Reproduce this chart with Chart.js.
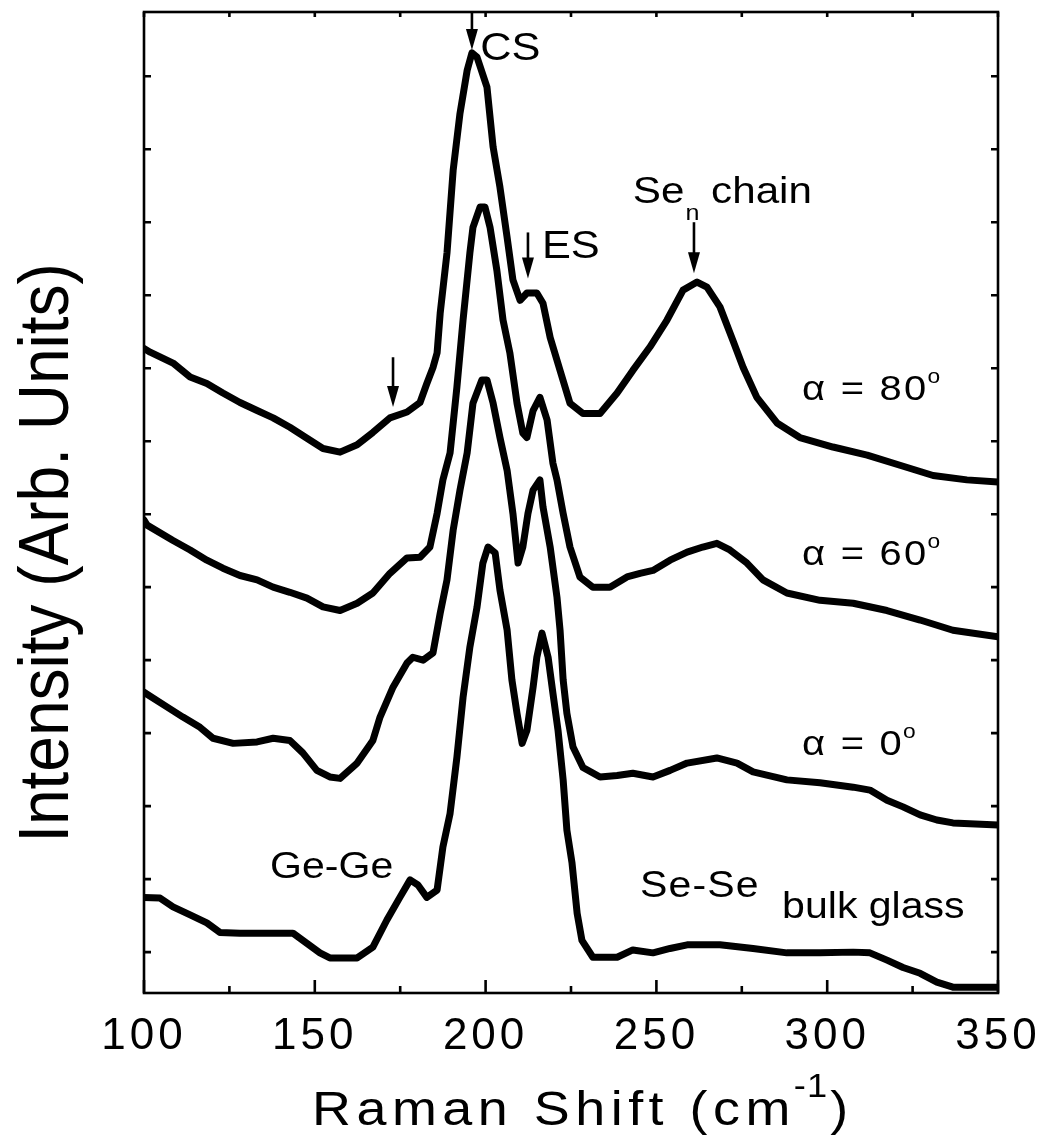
<!DOCTYPE html>
<html>
<head>
<meta charset="utf-8">
<script src="https://cdn.jsdelivr.net/npm/chart.js@4.4.1/dist/chart.umd.min.js"></script>
<style>
  html, body { margin: 0; padding: 0; background: #fff; }
  #wrap { width: 1039px; height: 1142px; }
</style>
</head>
<body>
<div id="wrap"><canvas id="raman" width="1039" height="1142" style="width:1039px;height:1142px"></canvas></div>
<script>
const FONT = '"Liberation Sans", Arial, Helvetica, sans-serif';

// Raman shift (cm-1) / intensity (arb. units, curves offset vertically)
const shift80 = [100, 101.8, 108.5, 113.5, 118.4, 123.1, 128.1, 133.1, 137.8, 142.7, 147.7, 152.4, 157.4, 162.4, 167.0, 172.0, 177.0, 180.8, 182.8, 184.6, 185.8, 186.7, 188.7, 190.5, 192.5, 194.6, 196.0, 197.5, 200.4, 202.2, 204.2, 206.3, 208.0, 210.1, 212.1, 215.0, 216.8, 218.9, 221.8, 224.7, 228.5, 233.5, 238.5, 243.1, 248.1, 253.1, 257.8, 261.9, 264.8, 268.6, 272.4, 275.4, 279.4, 285.3, 292.0, 301.7, 311.7, 321.3, 331.0, 340.9, 350];
const int80 = [8.27, 8.22, 8.07, 7.88, 7.79, 7.66, 7.53, 7.42, 7.32, 7.19, 7.04, 6.90, 6.85, 6.95, 7.12, 7.32, 7.40, 7.53, 7.79, 8.01, 8.21, 8.75, 9.58, 10.71, 11.49, 12.08, 12.32, 12.26, 11.85, 11.03, 10.48, 9.79, 9.21, 8.93, 9.03, 9.03, 8.89, 8.42, 7.97, 7.52, 7.38, 7.38, 7.66, 7.97, 8.29, 8.66, 9.07, 9.18, 9.11, 8.84, 8.38, 8.01, 7.60, 7.25, 7.05, 6.92, 6.81, 6.67, 6.53, 6.47, 6.44];

const shift60 = [100, 100.9, 108.5, 113.5, 118.4, 123.1, 128.1, 133.1, 137.8, 142.7, 147.7, 152.4, 157.4, 162.4, 167.0, 172.0, 177.0, 180.8, 183.7, 185.8, 187.5, 189.6, 191.6, 193.4, 195.4, 196.3, 198.4, 199.8, 201.3, 203.3, 205.1, 207.1, 209.2, 210.9, 212.1, 213.9, 215.9, 218.0, 219.7, 220.9, 222.7, 224.7, 227.6, 231.4, 236.4, 241.4, 245.2, 249.0, 254.0, 259.0, 263.6, 267.7, 271.5, 276.5, 281.2, 288.2, 297.9, 307.6, 317.5, 327.2, 336.8, 350];
const int60 = [5.92, 5.85, 5.64, 5.51, 5.37, 5.26, 5.16, 5.10, 5.00, 4.93, 4.85, 4.73, 4.68, 4.78, 4.92, 5.19, 5.40, 5.41, 5.55, 6.01, 6.47, 6.84, 7.74, 8.66, 9.58, 9.93, 10.21, 10.21, 9.93, 9.34, 8.66, 8.21, 7.52, 7.11, 7.05, 7.42, 7.60, 7.29, 6.70, 6.47, 6.01, 5.55, 5.14, 5.00, 5.00, 5.14, 5.19, 5.23, 5.37, 5.48, 5.55, 5.60, 5.51, 5.33, 5.10, 4.92, 4.82, 4.78, 4.68, 4.55, 4.41, 4.32];

const shift0 = [100, 106.7, 111.4, 116.4, 120.2, 126.1, 133.1, 137.8, 142.7, 146.5, 150.6, 154.4, 157.4, 162.4, 167.0, 169.1, 172.9, 177.0, 178.7, 181.7, 184.6, 186.7, 188.7, 190.5, 192.5, 194.6, 196.3, 198.9, 200.4, 202.2, 204.2, 206.3, 208.0, 209.5, 210.9, 212.4, 213.9, 215.9, 216.8, 218.9, 220.9, 221.8, 222.7, 223.8, 225.6, 228.5, 233.5, 238.5, 243.1, 249.0, 254.0, 259.0, 267.7, 273.6, 278.3, 288.2, 297.9, 307.6, 312.5, 317.5, 322.2, 327.2, 332.1, 336.8, 350];
const int0 = [3.56, 3.36, 3.22, 3.08, 2.93, 2.86, 2.88, 2.93, 2.90, 2.73, 2.49, 2.40, 2.38, 2.59, 2.90, 3.22, 3.63, 3.96, 4.04, 4.00, 4.10, 4.64, 5.10, 5.78, 6.33, 6.84, 7.52, 7.84, 7.84, 7.52, 7.05, 6.60, 6.01, 5.33, 5.55, 6.01, 6.33, 6.47, 6.10, 5.55, 4.86, 4.41, 3.73, 3.27, 2.81, 2.53, 2.40, 2.42, 2.45, 2.40, 2.49, 2.59, 2.66, 2.59, 2.47, 2.36, 2.32, 2.26, 2.22, 2.08, 1.99, 1.88, 1.81, 1.77, 1.74];

const shiftBulk = [100, 104.7, 108.5, 113.5, 118.4, 122.2, 128.1, 137.8, 143.6, 147.7, 151.5, 154.4, 162.4, 167.0, 171.1, 174.9, 177.9, 180.2, 182.8, 185.8, 187.5, 189.6, 191.6, 193.4, 195.4, 197.5, 199.2, 200.7, 202.8, 204.2, 206.3, 207.7, 209.2, 210.7, 212.1, 213.9, 215.0, 216.5, 218.3, 219.7, 221.2, 222.7, 223.8, 225.3, 226.8, 228.2, 231.4, 238.5, 243.1, 249.0, 254.0, 259.0, 268.6, 278.3, 288.2, 297.9, 307.6, 312.5, 317.5, 322.2, 327.2, 332.1, 336.8, 350];
const intBulk = [0.75, 0.74, 0.62, 0.51, 0.40, 0.27, 0.26, 0.26, 0.26, 0.12, -0.01, -0.08, -0.08, 0.07, 0.44, 0.75, 0.99, 0.92, 0.75, 0.85, 1.44, 1.90, 2.67, 3.49, 4.18, 4.73, 5.33, 5.55, 5.47, 4.96, 4.41, 3.73, 3.27, 2.86, 3.04, 3.63, 4.04, 4.37, 4.04, 3.55, 3.04, 2.36, 1.67, 1.22, 0.53, 0.16, -0.07, -0.07, 0.03, -0.01, 0.05, 0.10, 0.10, 0.05, -0.01, -0.01, 0.00, -0.01, -0.11, -0.21, -0.29, -0.41, -0.48, -0.48];

const xTickValues = [100, 125, 150, 175, 200, 225, 250, 275, 300, 325, 350];
const yTickValues = [0, 1, 2, 3, 4, 5, 6, 7, 8, 9, 10, 11, 12];

function pairs(xs, ys) {
  return xs.map((x, i) => ({ x: x, y: ys[i] }));
}

// draws text stretched horizontally by sx, returns the advance width
function drawText(ctx, str, x, y, size, sx, spacing) {
  ctx.save();
  ctx.font = size + 'px ' + FONT;
  ctx.letterSpacing = (spacing || 0) + 'px';
  ctx.textAlign = 'left';
  ctx.textBaseline = 'alphabetic';
  ctx.translate(x, y);
  ctx.scale(sx, 1);
  ctx.fillText(str, 0, 0);
  const w = ctx.measureText(str).width * sx;
  ctx.restore();
  return w;
}

function downArrow(ctx, x, y0, y1) {
  ctx.beginPath();
  ctx.moveTo(x, y0);
  ctx.lineTo(x, y1 - 16);
  ctx.stroke();
  ctx.beginPath();
  ctx.moveTo(x - 6, y1 - 21);
  ctx.lineTo(x + 6, y1 - 21);
  ctx.lineTo(x, y1);
  ctx.closePath();
  ctx.fill();
}

const frameTicks = {
  id: 'frameTicks',
  beforeDraw(chart) {
    // wide spacing for the tick numbers
    chart.ctx.letterSpacing = '4px';
  },
  afterDatasetsDraw(chart) {
    const { ctx, chartArea: a, scales: { x, y } } = chart;
    ctx.save();
    ctx.letterSpacing = '0px';
    ctx.strokeStyle = '#000';
    ctx.lineWidth = 2.6;
    ctx.beginPath();
    xTickValues.forEach(v => {
      const px = x.getPixelForValue(v);
      const major = v % 50 === 0;
      ctx.moveTo(px, a.bottom);
      ctx.lineTo(px, a.bottom - (major ? 13 : 7));
      ctx.moveTo(px, a.top);
      ctx.lineTo(px, a.top + 5);
    });
    yTickValues.forEach(v => {
      const py = y.getPixelForValue(v);
      ctx.moveTo(a.left, py);
      ctx.lineTo(a.left + 7, py);
      ctx.moveTo(a.right, py);
      ctx.lineTo(a.right - 7, py);
    });
    ctx.stroke();
    ctx.strokeRect(a.left, a.top, a.right - a.left, a.bottom - a.top);
    ctx.restore();
  }
};

const notes = {
  id: 'notes',
  afterDraw(chart) {
    const { ctx, chartArea: a, scales: { x, y } } = chart;
    const X = v => x.getPixelForValue(v);
    const Y = v => y.getPixelForValue(v);
    const SX = 1.14;
    ctx.save();
    ctx.fillStyle = '#000';
    ctx.strokeStyle = '#000';
    ctx.lineWidth = 2.6;

    // band markers
    downArrow(ctx, X(196.0), a.top, Y(12.36));
    downArrow(ctx, X(212.4), Y(9.86), Y(9.23));
    downArrow(ctx, X(261.0), Y(10.0), Y(9.30));
    downArrow(ctx, X(172.9), Y(8.15), Y(7.47));

    drawText(ctx, 'CS', X(198.4), Y(12.22), 38, SX);
    drawText(ctx, 'ES', X(216.5), Y(9.51), 38, SX);

    let cx = X(243.1);
    const by = Y(10.26);
    cx += drawText(ctx, 'Se', cx, by, 37, SX);
    cx += drawText(ctx, 'n', cx + 1, by + 17, 22, SX) + 1;
    drawText(ctx, ' chain', cx, by, 37, SX);

    [['α = 80', 7.56], ['α = 60', 5.30], ['α = 0', 2.70]].forEach(([t, v]) => {
      const lx = X(292.6), ly = Y(v);
      const w = drawText(ctx, t, lx, ly, 35, SX, 2);
      drawText(ctx, 'o', lx + w - 1, ly - 17, 20, SX);
    });

    drawText(ctx, 'Ge-Ge', X(136.9), Y(1.01), 36, SX);
    drawText(ctx, 'Se-Se', X(245.2), Y(0.75), 36, SX, 1);
    drawText(ctx, 'bulk glass', X(286.8), Y(0.47), 36, SX);

    // x axis title, superscript exponent
    const ty = 1125;
    let tx = 312;
    tx += drawText(ctx, 'Raman Shift (cm', tx, ty, 49, 1.1, 5);
    tx += drawText(ctx, '-1', tx - 2, ty - 28, 33, 1.1, 1);
    drawText(ctx, ')', tx, ty, 49, 1.1, 0);

    // y axis title
    ctx.font = '64px ' + FONT;
    ctx.letterSpacing = '0px';
    ctx.textAlign = 'center';
    ctx.textBaseline = 'alphabetic';
    ctx.translate(68, 553);
    ctx.scale(1.1, 1);
    ctx.rotate(-Math.PI / 2);
    ctx.fillText('Intensity (Arb. Units)', 0, 0);

    ctx.restore();
  }
};

const lineStyle = {
  borderColor: '#000',
  borderWidth: 7,
  pointRadius: 0,
  tension: 0,
  borderJoinStyle: 'round',
  borderCapStyle: 'round',
  fill: false
};

new Chart(document.getElementById('raman'), {
  type: 'line',
  data: {
    datasets: [
      Object.assign({ label: 'α = 80°', data: pairs(shift80, int80) }, lineStyle),
      Object.assign({ label: 'α = 60°', data: pairs(shift60, int60) }, lineStyle),
      Object.assign({ label: 'α = 0°', data: pairs(shift0, int0) }, lineStyle),
      Object.assign({ label: 'bulk glass', data: pairs(shiftBulk, intBulk) }, lineStyle)
    ]
  },
  options: {
    responsive: false,
    animation: false,
    events: [],
    layout: { padding: { top: 12, right: 41, left: 0, bottom: 0 } },
    plugins: { legend: { display: false }, tooltip: { enabled: false } },
    scales: {
      x: {
        type: 'linear',
        min: 100,
        max: 350,
        grid: { display: false, drawTicks: false },
        border: { display: false },
        ticks: {
          stepSize: 50,
          padding: 17,
          color: '#000',
          maxRotation: 0,
          font: { family: FONT, size: 44 }
        },
        afterFit(scale) {
          scale.height = 149;
          scale.paddingLeft = 0;
          scale.paddingRight = 0;
        }
      },
      y: {
        min: -0.56,
        max: 12.88,
        grid: { display: false, drawTicks: false },
        border: { display: false },
        ticks: { display: false },
        afterFit(scale) { scale.width = 144; }
      }
    }
  },
  plugins: [frameTicks, notes]
});
</script>
</body>
</html>
